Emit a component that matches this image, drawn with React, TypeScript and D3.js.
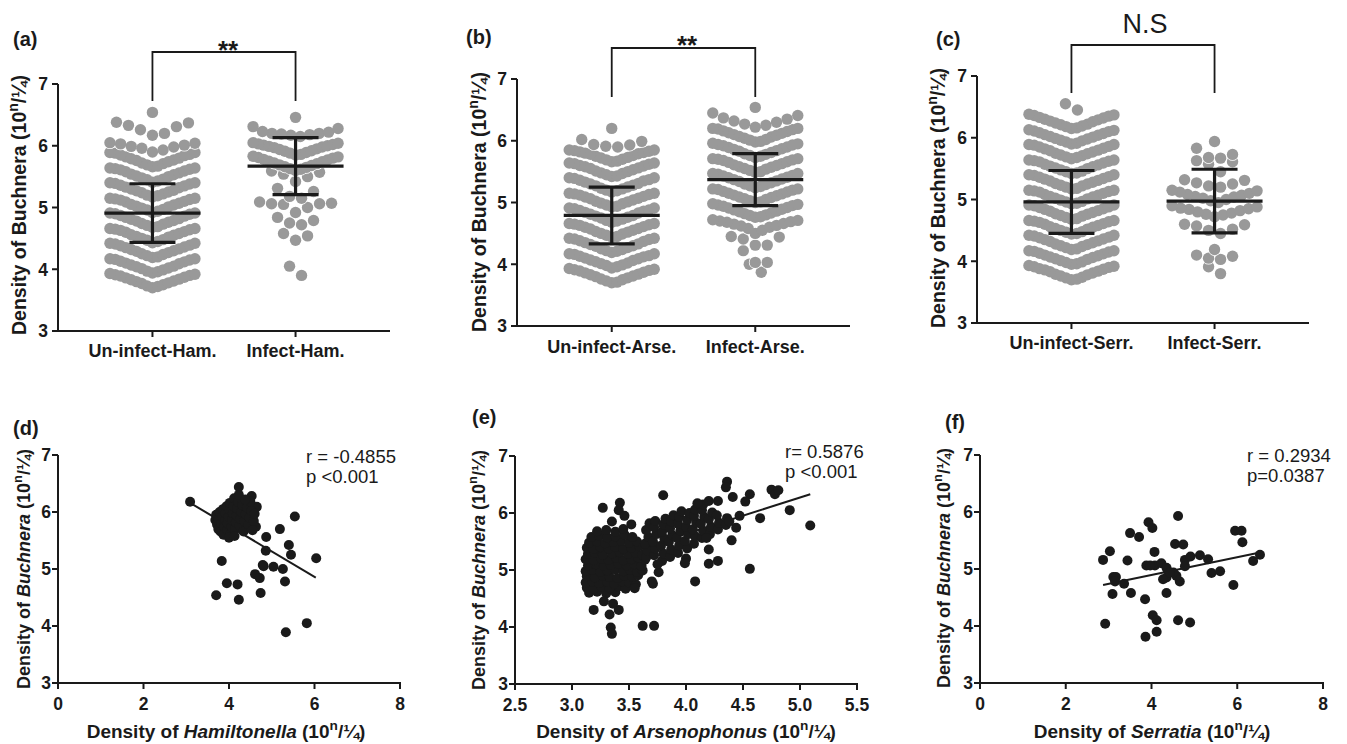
import React from "react";
import * as d3 from "d3";

// ================= DATA =================
const CATS_HAM = ["Un-infect-Ham.", "Infect-Ham."];
const CATS_ARSE = ["Un-infect-Arse.", "Infect-Arse."];
const CATS_SERR = ["Un-infect-Serr.", "Infect-Serr."];

// Buchnera density, aphids without / with Hamiltonella
const UNINF_HAM = [
  3.70, 3.72, 3.73, 3.75, 3.77, 3.78, 3.80, 3.81, 3.83, 3.84, 3.86, 3.87, 3.89, 3.90, 3.91, 3.92, 3.93,
  3.94, 3.96, 3.97, 3.99, 4.01, 4.02, 4.04, 4.05, 4.07, 4.09, 4.10, 4.12, 4.13, 4.15, 4.16, 4.17, 4.17,
  4.19, 4.20, 4.22, 4.24, 4.25, 4.27, 4.29, 4.30, 4.32, 4.33, 4.35, 4.36, 4.38, 4.39, 4.41, 4.42, 4.42,
  4.43, 4.45, 4.47, 4.48, 4.50, 4.52, 4.53, 4.55, 4.56, 4.58, 4.60, 4.61, 4.63, 4.64, 4.65, 4.66, 4.66,
  4.68, 4.69, 4.71, 4.73, 4.74, 4.76, 4.78, 4.79, 4.81, 4.82, 4.84, 4.86, 4.87, 4.89, 4.90, 4.91, 4.91,
  4.92, 4.94, 4.96, 4.97, 4.99, 5.01, 5.02, 5.04, 5.05, 5.07, 5.09, 5.10, 5.12, 5.13, 5.14, 5.15, 5.15,
  5.17, 5.19, 5.20, 5.22, 5.24, 5.25, 5.27, 5.28, 5.30, 5.32, 5.33, 5.35, 5.36, 5.38, 5.39, 5.40, 5.40,
  5.41, 5.43, 5.45, 5.46, 5.48, 5.50, 5.51, 5.53, 5.54, 5.56, 5.58, 5.59, 5.61, 5.62, 5.63, 5.64, 5.64,
  5.66, 5.67, 5.69, 5.71, 5.72, 5.74, 5.76, 5.77, 5.79, 5.80, 5.82, 5.84, 5.85, 5.86, 5.88, 5.89, 5.89,
  5.90, 5.93, 5.96, 5.98, 5.99, 6.01, 6.03, 6.04, 6.05,
  6.17, 6.20, 6.26, 6.31, 6.33, 6.37, 6.38,
  6.54,
];
const INF_HAM = [
  3.90, 4.05,
  4.47, 4.54, 4.58,
  4.72, 4.75, 4.79, 4.84,
  4.92, 5.00, 5.05, 5.06, 5.06, 5.07, 5.09,
  5.15, 5.18, 5.26, 5.31,
  5.42, 5.50, 5.54, 5.57, 5.59,
  5.60, 5.62, 5.63, 5.65, 5.66, 5.68, 5.69, 5.71, 5.72, 5.74, 5.75, 5.77, 5.78, 5.80, 5.81, 5.82, 5.83,
  5.85, 5.86, 5.88, 5.89, 5.91, 5.92, 5.94, 5.95, 5.97, 5.98, 5.99, 6.00, 6.01, 6.02, 6.03, 6.04, 6.05,
  6.15, 6.17, 6.18, 6.19, 6.20, 6.20, 6.22, 6.23, 6.28, 6.31,
  6.46,
];

// Buchnera density, aphids without / with Arsenophonus
const UNINF_ARSE = [
  3.70, 3.71, 3.73, 3.75, 3.76, 3.78, 3.80, 3.81, 3.83, 3.84, 3.86, 3.87, 3.89, 3.90, 3.91, 3.92, 3.93,
  3.94, 3.96, 3.98, 3.99, 4.01, 4.02, 4.04, 4.06, 4.07, 4.09, 4.10, 4.12, 4.13, 4.14, 4.16, 4.17, 4.17,
  4.19, 4.21, 4.22, 4.24, 4.25, 4.27, 4.29, 4.30, 4.32, 4.33, 4.35, 4.37, 4.38, 4.40, 4.41, 4.42, 4.42,
  4.44, 4.45, 4.47, 4.49, 4.50, 4.52, 4.53, 4.55, 4.57, 4.58, 4.60, 4.61, 4.63, 4.64, 4.65, 4.66, 4.66,
  4.68, 4.70, 4.71, 4.73, 4.75, 4.76, 4.78, 4.79, 4.81, 4.83, 4.84, 4.86, 4.87, 4.88, 4.90, 4.91, 4.91,
  4.93, 4.94, 4.96, 4.98, 4.99, 5.01, 5.02, 5.04, 5.06, 5.07, 5.09, 5.10, 5.12, 5.13, 5.14, 5.15, 5.15,
  5.17, 5.19, 5.20, 5.22, 5.23, 5.25, 5.27, 5.28, 5.30, 5.31, 5.33, 5.35, 5.36, 5.37, 5.39, 5.40, 5.40,
  5.42, 5.43, 5.45, 5.47, 5.48, 5.50, 5.51, 5.53, 5.55, 5.56, 5.58, 5.59, 5.60, 5.62, 5.63, 5.64, 5.64,
  5.66, 5.67, 5.69, 5.70, 5.72, 5.73, 5.75, 5.76, 5.78, 5.79, 5.80, 5.81, 5.82, 5.83, 5.84, 5.85, 5.85,
  5.90, 5.91, 5.93, 5.94, 5.99, 6.02,
  6.20,
];
const INF_ARSE = [
  3.87, 4.00,
  4.03, 4.03, 4.22,
  4.31, 4.31, 4.41, 4.44, 4.45,
  4.50, 4.55, 4.58, 4.60, 4.62, 4.63, 4.65, 4.66, 4.68, 4.69, 4.70, 4.71, 4.72,
  4.76, 4.77, 4.79, 4.80, 4.82, 4.83, 4.85, 4.86, 4.88, 4.89, 4.91, 4.92, 4.94, 4.95, 4.96, 4.97, 4.98,
  5.00, 5.01, 5.03, 5.05, 5.06, 5.08, 5.09, 5.11, 5.12, 5.14, 5.15, 5.17, 5.18, 5.20, 5.21, 5.22, 5.22,
  5.24, 5.26, 5.27, 5.29, 5.30, 5.32, 5.34, 5.35, 5.37, 5.38, 5.40, 5.41, 5.43, 5.44, 5.46, 5.47, 5.47,
  5.49, 5.50, 5.52, 5.54, 5.55, 5.57, 5.58, 5.60, 5.61, 5.63, 5.65, 5.66, 5.68, 5.69, 5.70, 5.71, 5.71,
  5.73, 5.75, 5.76, 5.78, 5.79, 5.81, 5.83, 5.84, 5.86, 5.87, 5.89, 5.90, 5.92, 5.93, 5.94, 5.95, 5.96,
  5.98, 5.99, 6.01, 6.02, 6.04, 6.06, 6.07, 6.09, 6.10, 6.12, 6.13, 6.15, 6.16, 6.18, 6.19, 6.20, 6.20,
  6.22, 6.25, 6.27, 6.30, 6.32, 6.35, 6.37, 6.41, 6.45,
  6.54,
];

// Buchnera density, aphids without / with Serratia
const UNINF_SERR = [
  3.70, 3.71, 3.73, 3.74, 3.76, 3.78, 3.79, 3.81, 3.83, 3.84, 3.86, 3.87, 3.88, 3.90, 3.91, 3.92, 3.93,
  3.95, 3.96, 3.98, 3.99, 4.01, 4.03, 4.04, 4.06, 4.07, 4.09, 4.10, 4.12, 4.13, 4.15, 4.16, 4.17, 4.17,
  4.19, 4.20, 4.22, 4.24, 4.25, 4.27, 4.28, 4.30, 4.32, 4.33, 4.35, 4.36, 4.38, 4.39, 4.41, 4.42, 4.42,
  4.44, 4.45, 4.47, 4.48, 4.50, 4.52, 4.53, 4.55, 4.56, 4.58, 4.60, 4.61, 4.63, 4.64, 4.65, 4.66, 4.66,
  4.68, 4.69, 4.71, 4.73, 4.74, 4.76, 4.77, 4.79, 4.81, 4.82, 4.84, 4.85, 4.87, 4.88, 4.90, 4.91, 4.91,
  4.93, 4.94, 4.96, 4.97, 4.99, 5.01, 5.02, 5.04, 5.05, 5.07, 5.08, 5.10, 5.12, 5.13, 5.14, 5.15, 5.15,
  5.17, 5.18, 5.20, 5.22, 5.23, 5.25, 5.26, 5.28, 5.30, 5.31, 5.33, 5.34, 5.36, 5.37, 5.39, 5.40, 5.40,
  5.42, 5.43, 5.45, 5.46, 5.48, 5.50, 5.51, 5.53, 5.54, 5.56, 5.57, 5.59, 5.61, 5.62, 5.63, 5.64, 5.64,
  5.66, 5.68, 5.69, 5.71, 5.72, 5.74, 5.75, 5.77, 5.79, 5.80, 5.82, 5.83, 5.85, 5.86, 5.88, 5.89, 5.89,
  5.90, 5.91, 5.93, 5.95, 5.96, 5.98, 5.99, 6.01, 6.02, 6.04, 6.05, 6.07, 6.08, 6.10, 6.11, 6.12, 6.13,
  6.15, 6.16, 6.18, 6.19, 6.21, 6.22, 6.24, 6.26, 6.27, 6.29, 6.30, 6.32, 6.33, 6.35, 6.36, 6.37, 6.38,
  6.45, 6.55,
];
const INF_SERR = [
  3.80, 3.91,
  4.03, 4.05, 4.08, 4.10,
  4.19,
  4.45, 4.50, 4.52, 4.57, 4.59, 4.60,
  4.72, 4.75, 4.76, 4.78, 4.80, 4.82, 4.84, 4.85, 4.86, 4.88, 4.90,
  4.95, 4.98, 5.00, 5.02, 5.04, 5.05, 5.07, 5.08, 5.10, 5.12, 5.14, 5.15,
  5.20, 5.22, 5.25, 5.27, 5.31, 5.32,
  5.45, 5.57, 5.61, 5.63,
  5.67, 5.68, 5.73, 5.83,
  5.94,
];

// mean and SD of each column
const MEAN_HAM = [4.91, 5.67];
const SD_HAM = [0.475, 0.46];
const MEAN_ARSE = [4.79, 5.37];
const SD_ARSE = [0.46, 0.42];
const MEAN_SERR = [4.96, 4.975];
const SD_SERR = [0.51, 0.515];
const SIG_LABELS = ["**", "**", "N.S"];

// scatter: [symbiont density, Buchnera density]
const HAM_PAIRS = [
  [3.09, 6.18], [4.23, 6.44], [4.53, 6.28], [4.65, 6.09], [5.54, 5.92], [5.19, 5.70], [4.63, 5.74],
  [4.87, 5.56], [5.40, 5.42], [5.45, 5.25], [4.86, 5.32], [6.04, 5.19], [3.83, 5.14], [4.79, 5.07],
  [4.81, 5.05], [5.04, 5.04], [5.26, 5.00], [4.61, 4.91], [4.72, 4.84], [5.31, 4.78], [3.95, 4.75],
  [4.20, 4.73], [4.74, 4.58], [3.70, 4.54], [4.23, 4.46], [5.82, 4.05], [5.33, 3.89],
  [3.68, 5.86], [3.70, 5.95], [3.72, 5.78], [3.75, 5.70], [3.76, 5.88], [3.78, 6.00], [3.80, 5.66],
  [3.82, 5.80], [3.84, 5.92], [3.86, 6.05], [3.87, 5.60], [3.89, 5.74], [3.91, 5.86], [3.92, 5.98],
  [3.94, 6.10], [3.96, 5.68], [3.97, 5.80], [3.99, 5.92], [4.01, 6.04], [4.02, 6.16], [4.04, 5.62],
  [4.06, 5.74], [4.07, 5.86], [4.09, 5.98], [4.11, 6.10], [4.12, 6.24], [4.14, 5.70], [4.16, 5.82],
  [4.18, 5.94], [4.19, 6.06], [4.21, 6.18], [4.23, 6.30], [4.25, 5.76], [4.27, 5.88], [4.29, 6.00],
  [4.31, 6.12], [4.34, 5.66], [4.36, 5.84], [4.39, 5.96], [4.42, 6.08], [4.45, 5.78], [4.48, 5.90],
  [4.52, 6.02], [4.55, 5.68], [4.58, 5.84], [4.60, 5.97], [4.50, 6.18], [4.38, 6.22], [4.00, 5.55],
  [4.13, 5.58],
];
const ARSE_PAIRS = [
  [3.15, 4.60], [3.22, 4.62], [3.30, 4.59], [3.38, 4.61],
  [3.13, 4.69], [3.19, 4.67], [3.26, 4.70], [3.33, 4.68], [3.41, 4.71], [3.47, 4.67],
  [3.12, 4.78], [3.18, 4.80], [3.24, 4.77], [3.31, 4.79], [3.37, 4.76], [3.44, 4.80], [3.50, 4.78], [3.56, 4.75],
  [3.13, 4.89], [3.20, 4.87], [3.27, 4.90], [3.33, 4.88], [3.40, 4.86], [3.46, 4.90], [3.53, 4.88], [3.58, 4.91],
  [3.12, 4.98], [3.18, 5.00], [3.25, 4.97], [3.31, 4.99], [3.38, 5.01], [3.45, 4.98], [3.51, 5.00], [3.57, 4.97], [3.62, 4.99],
  [3.14, 5.08], [3.21, 5.10], [3.28, 5.07], [3.34, 5.09], [3.41, 5.11], [3.48, 5.08], [3.55, 5.10], [3.61, 5.07],
  [3.12, 5.19], [3.19, 5.17], [3.26, 5.20], [3.32, 5.18], [3.39, 5.21], [3.45, 5.17], [3.52, 5.19], [3.58, 5.22], [3.64, 5.18],
  [3.14, 5.28], [3.20, 5.30], [3.27, 5.27], [3.35, 5.29], [3.42, 5.31], [3.49, 5.28], [3.56, 5.30], [3.62, 5.27],
  [3.13, 5.39], [3.19, 5.37], [3.25, 5.40], [3.32, 5.38], [3.38, 5.41], [3.45, 5.37], [3.52, 5.39], [3.59, 5.42], [3.66, 5.38],
  [3.15, 5.48], [3.22, 5.50], [3.29, 5.47], [3.36, 5.49], [3.43, 5.51], [3.50, 5.48], [3.57, 5.50],
  [3.17, 5.58], [3.24, 5.60], [3.31, 5.57], [3.38, 5.59], [3.46, 5.62], [3.53, 5.58],
  [3.22, 5.68], [3.30, 5.70], [3.38, 5.67], [3.45, 5.72],
  [3.65, 5.22], [3.66, 5.34], [3.64, 5.46], [3.67, 5.58], [3.65, 5.70], [3.68, 5.82],
  [3.72, 5.26], [3.73, 5.38], [3.71, 5.50], [3.74, 5.63], [3.72, 5.75], [3.73, 5.86],
  [3.79, 5.16], [3.80, 5.29], [3.78, 5.42], [3.81, 5.55], [3.79, 5.67], [3.80, 5.80], [3.82, 5.90],
  [3.86, 5.23], [3.87, 5.36], [3.85, 5.49], [3.88, 5.61], [3.86, 5.73], [3.87, 5.85], [3.89, 5.96],
  [3.93, 5.30], [3.94, 5.43], [3.92, 5.56], [3.95, 5.69], [3.93, 5.81], [3.94, 5.93], [3.96, 6.03],
  [4.00, 5.20], [4.01, 5.38], [3.99, 5.51], [4.02, 5.63], [4.00, 5.76], [4.01, 5.88], [4.03, 6.00],
  [4.07, 5.46], [4.08, 5.59], [4.06, 5.71], [4.09, 5.83], [4.07, 5.95], [4.08, 6.06],
  [4.14, 5.56], [4.15, 5.69], [4.13, 5.81], [4.16, 5.93], [4.14, 6.05], [4.15, 6.15],
  [4.21, 5.63], [4.22, 5.76], [4.20, 5.89], [4.23, 6.01],
  [4.28, 5.71], [4.29, 5.83], [4.27, 5.96],
  [4.35, 5.79], [4.36, 5.91],
  [5.09, 5.78], [4.91, 6.05], [4.56, 5.02], [4.65, 5.91], [4.75, 6.41], [4.78, 6.33], [4.81, 6.40],
  [4.56, 6.33], [4.36, 6.55], [4.35, 6.45], [4.41, 6.28], [3.80, 6.31], [4.28, 6.21], [4.20, 6.21],
  [4.10, 6.17], [3.42, 6.18], [3.27, 6.09], [4.08, 4.80], [3.62, 4.02], [3.72, 4.02], [3.34, 3.99],
  [3.35, 3.88], [3.33, 4.22], [3.19, 4.30], [3.41, 4.30], [3.28, 4.45], [3.36, 4.41], [4.28, 5.16],
  [4.20, 5.11], [3.99, 5.12], [4.40, 5.52], [4.44, 5.74], [3.71, 4.76], [3.70, 4.80], [3.55, 4.68],
  [3.76, 4.96], [3.75, 5.10], [4.18, 5.56], [4.20, 5.36], [4.52, 6.20], [4.47, 5.95], [4.38, 5.85],
  [3.41, 6.05], [3.46, 5.95], [3.35, 5.85], [3.52, 5.80],
];
const SERR_PAIRS = [
  [2.87, 5.16], [3.03, 5.31], [3.11, 4.86], [3.17, 4.86], [2.92, 4.04], [3.09, 4.56], [3.15, 4.78],
  [3.36, 4.74], [3.44, 5.15], [3.50, 5.63], [3.71, 5.56], [3.52, 4.58], [3.85, 4.47], [3.93, 5.82],
  [4.02, 5.72], [4.07, 5.30], [3.88, 5.06], [4.08, 5.06], [4.23, 5.10], [4.35, 5.02], [4.35, 4.85],
  [4.35, 4.58], [4.03, 4.19], [4.12, 4.10], [3.86, 3.81], [4.12, 3.90], [4.62, 5.93], [4.55, 5.44],
  [4.74, 5.43], [4.62, 4.10], [4.90, 4.06], [4.66, 4.78], [4.58, 4.88], [4.51, 4.94], [4.78, 5.16],
  [4.91, 5.22], [4.78, 5.05], [5.13, 5.24], [5.32, 5.17], [5.40, 4.93], [5.60, 4.96], [5.91, 4.72],
  [5.95, 5.67], [6.10, 5.67], [6.12, 5.47], [6.37, 5.14], [6.53, 5.25], [4.27, 4.82], [4.43, 4.94],
  [3.97, 5.06],
];
// regression line end points [x, y]
const FIT_HAM = [[3.09, 6.16], [6.03, 4.85]];
const FIT_ARSE = [[3.12, 5.07], [5.09, 6.33]];
const FIT_SERR = [[2.87, 4.72], [6.53, 5.29]];
const STATS_HAM = ["r = -0.4855", "p <0.001"];
const STATS_ARSE = ["r= 0.5876", "p <0.001"];
const STATS_SERR = ["r = 0.2934", "p=0.0387"];
const SYMBIONTS = ["Hamiltonella", "Arsenophonus", "Serratia"];

const Y_TICKS = [3, 4, 5, 6, 7];
const X_TICKS_WIDE = [0, 2, 4, 6, 8];
const X_TICKS_ARSE = [2.5, 3.0, 3.5, 4.0, 4.5, 5.0, 5.5];

// ================= STYLE / LAYOUT =================
const FONT = "'Liberation Sans', Arial, Helvetica, sans-serif";
const INK = "#1a1a1a";
const GRAY = "#999999";
const BIN_W = 0.245;
const DOT_R = 5.7;

type Dot = { v: number; dx: number; bin: number };
function swarmRows(values: number[], phase: number, gap: number, half: number): Dot[][] {
  const groups = d3.groups(values, (v) => Math.floor((v - phase) / BIN_W + 1e-9));
  groups.sort((a, b) => a[0] - b[0]);
  return groups.map(([bin, arr]) => {
    const s = arr.slice().sort(d3.ascending);
    const n = s.length;
    const step = n > 1 ? Math.min(gap, (2 * half) / (n - 1)) : 0;
    const slots = d3
      .range(n)
      .map((j) => (j - (n - 1) / 2) * step)
      .sort((a, b) => Math.abs(a) - Math.abs(b) || b - a);
    return s.map((v, i) => ({ v, dx: slots[i], bin }));
  });
}

function unitSpans(fs: number, k: string) {
  return [
    <tspan key={k + "u1"}>{" (10"}</tspan>,
    <tspan key={k + "u2"} dy={-fs * 0.42} fontSize={fs * 0.72}>n</tspan>,
    <tspan key={k + "u3"} dy={fs * 0.42}>{"/\u00BC)"}</tspan>,
  ];
}

type SwarmCfg = {
  tag: string; tagX: number; tagY: number;
  x0: number; x1: number; yT: number; yB: number;
  cats: string[]; groups: number[][]; means: number[]; sds: number[]; phases: number[];
  sig: string; sigX: number; sigY: number; sigSize: number; sigBold: boolean;
  brTop: number; brBot: number;
  labX: number; labY: number; catY: number;
};

function SwarmPanel({ c }: { c: SwarmCfg }) {
  const y = d3.scaleLinear().domain([3, 7]).range([c.yB, c.yT]);
  const x = d3.scalePoint<string>().domain(c.cats).range([c.x0, c.x1]).padding(0.66);
  return (
    <g>
      <text x={c.tagX} y={c.tagY} fontSize={20} fontWeight="bold" fill={INK}>{c.tag}</text>
      {/* y label */}
      <text transform={`translate(${c.labX},${c.labY}) rotate(-90)`} textAnchor="middle" fontSize={19.5} fontWeight="bold" fill={INK}>
        <tspan>{"Density of Buchnera"}</tspan>
        {unitSpans(19.5, c.tag)}
      </text>
      {/* points */}
      {c.groups.map((vals, gi) => {
        const cx = x(c.cats[gi]) as number;
        const rows = swarmRows(vals, c.phases[gi], 12, 42.5);
        return (
          <g key={gi}>
            {rows.map((row, ri) => (
              <g key={ri}>
                {row.map((d, i) => (
                  <circle key={"h" + i} cx={cx + d.dx} cy={y(d.v)} r={DOT_R + 0.7} fill="#fff" />
                ))}
                {row.map((d, i) => (
                  <circle key={"f" + i} cx={cx + d.dx} cy={y(d.v)} r={DOT_R} fill={GRAY} />
                ))}
              </g>
            ))}
          </g>
        );
      })}
      {/* mean and SD */}
      {c.cats.map((cat, gi) => {
        const cx = x(cat) as number;
        const m = c.means[gi];
        const s = c.sds[gi];
        return (
          <g key={cat} stroke={INK} strokeWidth={3.2} strokeLinecap="butt">
            <line x1={cx - 48} x2={cx + 48} y1={y(m)} y2={y(m)} />
            <line x1={cx} x2={cx} y1={y(m - s)} y2={y(m + s)} />
            <line x1={cx - 23} x2={cx + 23} y1={y(m + s)} y2={y(m + s)} />
            <line x1={cx - 23} x2={cx + 23} y1={y(m - s)} y2={y(m - s)} />
          </g>
        );
      })}
      {/* axes */}
      <g stroke={INK} strokeWidth={2} fill="none">
        <line x1={c.x0} x2={c.x0} y1={c.yB + 1} y2={c.yT} />
        <line x1={c.x0 - 1} x2={c.x1} y1={c.yB} y2={c.yB} />
        {Y_TICKS.map((t) => (
          <line key={t} x1={c.x0 - 6} x2={c.x0} y1={y(t)} y2={y(t)} />
        ))}
        {c.cats.map((cat) => (
          <line key={cat} x1={x(cat)} x2={x(cat)} y1={c.yB} y2={c.yB + 6} />
        ))}
      </g>
      {Y_TICKS.map((t) => (
        <text key={t} x={c.x0 - 10} y={y(t)} dy="0.36em" textAnchor="end" fontSize={17.5} fontWeight="bold" fill={INK}>{t}</text>
      ))}
      {c.cats.map((cat) => (
        <text key={cat} x={x(cat)} y={c.catY} textAnchor="middle" fontSize={18} fontWeight="bold" fill={INK}>{cat}</text>
      ))}
      {/* significance bracket */}
      <path
        d={`M${x(c.cats[0])},${c.brBot} V${c.brTop} H${x(c.cats[1])} V${c.brBot}`}
        fill="none" stroke={INK} strokeWidth={1.8}
      />
      <text x={c.sigX} y={c.sigY} textAnchor="middle" fontSize={c.sigSize} fontWeight={c.sigBold ? "bold" : "normal"} fill={INK}>{c.sig}</text>
    </g>
  );
}

type ScatCfg = {
  tag: string; tagX: number; tagY: number;
  x0: number; x1: number; yT: number; yB: number;
  xDom: number[]; xTicks: number[]; fmt: (v: number) => string;
  pairs: number[][]; fit: number[][]; stats: string[]; statX: number; statY: number;
  name: string; titleX: number; labX: number; labY: number;
};

function ScatterPanel({ c }: { c: ScatCfg }) {
  const x = d3.scaleLinear().domain(c.xDom).range([c.x0, c.x1]);
  const y = d3.scaleLinear().domain([3, 7]).range([c.yB, c.yT]);
  const line = d3.line<number[]>().x((d) => x(d[0])).y((d) => y(d[1]));
  return (
    <g>
      <text x={c.tagX} y={c.tagY} fontSize={20} fontWeight="bold" fill={INK}>{c.tag}</text>
      <text transform={`translate(${c.labX},${c.labY}) rotate(-90)`} textAnchor="middle" fontSize={18} fontWeight="bold" fill={INK}>
        <tspan>{"Density of "}</tspan>
        <tspan fontStyle="italic">Buchnera</tspan>
        {unitSpans(18, c.tag)}
      </text>
      <path d={line(c.fit) || ""} stroke={INK} strokeWidth={2} fill="none" />
      {c.pairs.map((p, i) => (
        <circle key={i} cx={x(p[0])} cy={y(p[1])} r={5} fill={INK} />
      ))}
      <g stroke={INK} strokeWidth={2} fill="none">
        <line x1={c.x0} x2={c.x0} y1={c.yB + 1} y2={c.yT} />
        <line x1={c.x0 - 1} x2={c.x1 + 1} y1={c.yB} y2={c.yB} />
        {Y_TICKS.map((t) => (
          <line key={t} x1={c.x0 - 6} x2={c.x0} y1={y(t)} y2={y(t)} />
        ))}
        {c.xTicks.map((t) => (
          <line key={t} x1={x(t)} x2={x(t)} y1={c.yB} y2={c.yB + 6} />
        ))}
      </g>
      {Y_TICKS.map((t) => (
        <text key={t} x={c.x0 - 7} y={y(t)} dy="0.36em" textAnchor="end" fontSize={17.5} fontWeight="bold" fill={INK}>{t}</text>
      ))}
      {c.xTicks.map((t) => (
        <text key={t} x={x(t)} y={c.yB + 27} textAnchor="middle" fontSize={17.5} fontWeight="bold" fill={INK}>{c.fmt(t)}</text>
      ))}
      <text x={c.titleX} y={738} textAnchor="middle" fontSize={19} fontWeight="bold" fill={INK}>
        <tspan>{"Density of "}</tspan>
        <tspan fontStyle="italic">{c.name}</tspan>
        {unitSpans(19, c.tag + "x")}
      </text>
      {c.stats.map((s, i) => (
        <text key={i} x={c.statX} y={c.statY + i * 20} fontSize={18.5} fill={INK}>{s}</text>
      ))}
    </g>
  );
}

export default function App() {
  const f0 = (v: number) => String(v);
  const f1 = (v: number) => v.toFixed(1);
  const top: SwarmCfg[] = [
    {
      tag: "(a)", tagX: 13, tagY: 46, x0: 58, x1: 390, yT: 84, yB: 331,
      cats: CATS_HAM, groups: [UNINF_HAM, INF_HAM], means: MEAN_HAM, sds: SD_HAM, phases: [3.69, 5.84],
      sig: SIG_LABELS[0], sigX: 228, sigY: 59, sigSize: 26, sigBold: true, brTop: 52, brBot: 101,
      labX: 26, labY: 205, catY: 357,
    },
    {
      tag: "(b)", tagX: 466, tagY: 44, x0: 517, x1: 850, yT: 79, yB: 326,
      cats: CATS_ARSE, groups: [UNINF_ARSE, INF_ARSE], means: MEAN_ARSE, sds: SD_ARSE, phases: [3.69, 4.74],
      sig: SIG_LABELS[1], sigX: 687, sigY: 54, sigSize: 26, sigBold: true, brTop: 48, brBot: 97,
      labX: 486, labY: 202, catY: 353,
    },
    {
      tag: "(c)", tagX: 936, tagY: 46, x0: 977, x1: 1309, yT: 76, yB: 323,
      cats: CATS_SERR, groups: [UNINF_SERR, INF_SERR], means: MEAN_SERR, sds: SD_SERR, phases: [3.69, 3.69],
      sig: SIG_LABELS[2], sigX: 1145, sigY: 33, sigSize: 27, sigBold: false, brTop: 45, brBot: 93,
      labX: 945, labY: 198, catY: 349,
    },
  ];
  const bottom: ScatCfg[] = [
    {
      tag: "(d)", tagX: 13, tagY: 435, x0: 58, x1: 400, yT: 455, yB: 683,
      xDom: [0, 8], xTicks: X_TICKS_WIDE, fmt: f0, pairs: HAM_PAIRS, fit: FIT_HAM,
      stats: STATS_HAM, statX: 306, statY: 463, name: SYMBIONTS[0], titleX: 226, labX: 30, labY: 569,
    },
    {
      tag: "(e)", tagX: 472, tagY: 424, x0: 515, x1: 857, yT: 456, yB: 684,
      xDom: [2.5, 5.5], xTicks: X_TICKS_ARSE, fmt: f1, pairs: ARSE_PAIRS, fit: FIT_ARSE,
      stats: STATS_ARSE, statX: 785, statY: 458, name: SYMBIONTS[1], titleX: 686, labX: 485, labY: 570,
    },
    {
      tag: "(f)", tagX: 945, tagY: 429, x0: 980, x1: 1323, yT: 455, yB: 683,
      xDom: [0, 8], xTicks: X_TICKS_WIDE, fmt: f0, pairs: SERR_PAIRS, fit: FIT_SERR,
      stats: STATS_SERR, statX: 1247, statY: 462, name: SYMBIONTS[2], titleX: 1152, labX: 950, labY: 568,
    },
  ];
  return (
    <svg
      width={1347}
      height={744}
      style={{ position: "absolute", left: 0, top: 0, background: "#fff" }}
      fontFamily={FONT}
    >
      <rect width={1347} height={744} fill="#fff" />
      {top.map((c) => (
        <SwarmPanel key={c.tag} c={c} />
      ))}
      {bottom.map((c) => (
        <ScatterPanel key={c.tag} c={c} />
      ))}
    </svg>
  );
}
